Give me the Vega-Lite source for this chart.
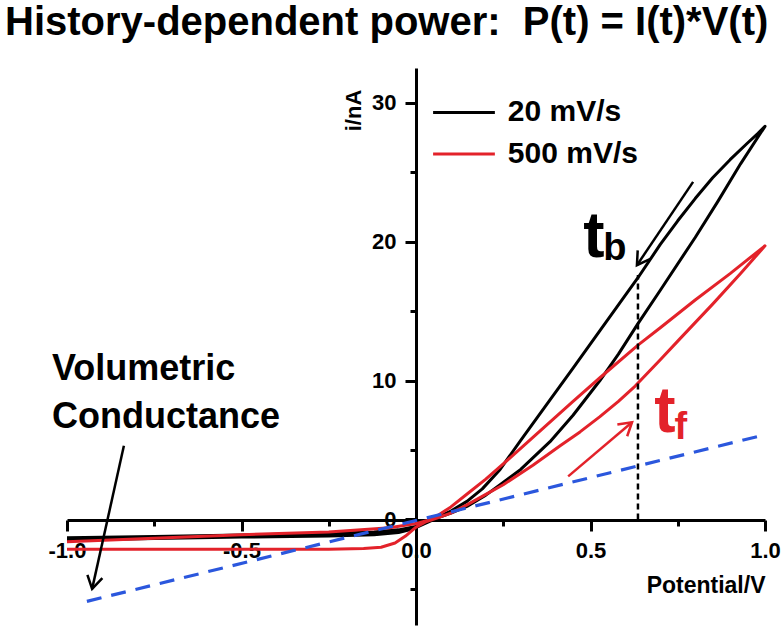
{
  "$schema": "https://vega.github.io/schema/vega-lite/v6.json",
  "width": 698,
  "height": 557,
  "autosize": {"type": "none"},
  "padding": {"left": 67, "top": 68, "right": 19, "bottom": 6},
  "background": "white",
  "config": {"view": {"stroke": null}, "font": "Liberation Sans"},
  "title": {
    "text": "History-dependent power: \u00a0P(t) = I(t)*V(t)",
    "font": "Liberation Sans",
    "fontSize": 40,
    "fontWeight": "bold",
    "color": "black",
    "anchor": "start",
    "frame": "group",
    "dx": -62,
    "dy": 37,
    "baseline": "alphabetic",
    "offset": 30
  },
  "datasets": {
    "curves": [
      {"s": "20 mV/s", "o": 1, "v": -1.0, "i": -1.5},
      {"s": "20 mV/s", "o": 2, "v": -0.75, "i": -1.38},
      {"s": "20 mV/s", "o": 3, "v": -0.5, "i": -1.27},
      {"s": "20 mV/s", "o": 4, "v": -0.25, "i": -1.2},
      {"s": "20 mV/s", "o": 5, "v": -0.12, "i": -1.1},
      {"s": "20 mV/s", "o": 6, "v": -0.05, "i": -0.95},
      {"s": "20 mV/s", "o": 7, "v": -0.01, "i": -0.7},
      {"s": "20 mV/s", "o": 8, "v": 0.02, "i": -0.35},
      {"s": "20 mV/s", "o": 9, "v": 0.06, "i": 0.1},
      {"s": "20 mV/s", "o": 10, "v": 0.1, "i": 0.45},
      {"s": "20 mV/s", "o": 11, "v": 0.146, "i": 0.94},
      {"s": "20 mV/s", "o": 12, "v": 0.2, "i": 1.75},
      {"s": "20 mV/s", "o": 13, "v": 0.241, "i": 2.5},
      {"s": "20 mV/s", "o": 14, "v": 0.3, "i": 3.6},
      {"s": "20 mV/s", "o": 15, "v": 0.384, "i": 5.6},
      {"s": "20 mV/s", "o": 16, "v": 0.45, "i": 7.5},
      {"s": "20 mV/s", "o": 17, "v": 0.527, "i": 10.0},
      {"s": "20 mV/s", "o": 18, "v": 0.58, "i": 11.9},
      {"s": "20 mV/s", "o": 19, "v": 0.636, "i": 14.1},
      {"s": "20 mV/s", "o": 20, "v": 0.7, "i": 16.5},
      {"s": "20 mV/s", "o": 21, "v": 0.8, "i": 20.3},
      {"s": "20 mV/s", "o": 22, "v": 0.865, "i": 22.9},
      {"s": "20 mV/s", "o": 23, "v": 0.93, "i": 25.6},
      {"s": "20 mV/s", "o": 24, "v": 1.0, "i": 28.3},
      {"s": "20 mV/s", "o": 25, "v": 0.98, "i": 27.8},
      {"s": "20 mV/s", "o": 26, "v": 0.95, "i": 27.1},
      {"s": "20 mV/s", "o": 27, "v": 0.9, "i": 25.9},
      {"s": "20 mV/s", "o": 28, "v": 0.85, "i": 24.6},
      {"s": "20 mV/s", "o": 29, "v": 0.8, "i": 23.1},
      {"s": "20 mV/s", "o": 30, "v": 0.75, "i": 21.5},
      {"s": "20 mV/s", "o": 31, "v": 0.7, "i": 19.8},
      {"s": "20 mV/s", "o": 32, "v": 0.636, "i": 17.4},
      {"s": "20 mV/s", "o": 33, "v": 0.527, "i": 13.6},
      {"s": "20 mV/s", "o": 34, "v": 0.45, "i": 10.9},
      {"s": "20 mV/s", "o": 35, "v": 0.384, "i": 8.6},
      {"s": "20 mV/s", "o": 36, "v": 0.3, "i": 5.7},
      {"s": "20 mV/s", "o": 37, "v": 0.241, "i": 3.6},
      {"s": "20 mV/s", "o": 38, "v": 0.19, "i": 2.2},
      {"s": "20 mV/s", "o": 39, "v": 0.146, "i": 1.3},
      {"s": "20 mV/s", "o": 40, "v": 0.1, "i": 0.6},
      {"s": "20 mV/s", "o": 41, "v": 0.06, "i": 0.15},
      {"s": "20 mV/s", "o": 42, "v": 0.03, "i": -0.2},
      {"s": "20 mV/s", "o": 43, "v": 0.0, "i": -0.5},
      {"s": "20 mV/s", "o": 44, "v": -0.05, "i": -0.75},
      {"s": "20 mV/s", "o": 45, "v": -0.12, "i": -0.9},
      {"s": "20 mV/s", "o": 46, "v": -0.25, "i": -1.02},
      {"s": "20 mV/s", "o": 47, "v": -0.5, "i": -1.12},
      {"s": "20 mV/s", "o": 48, "v": -0.75, "i": -1.22},
      {"s": "20 mV/s", "o": 49, "v": -1.0, "i": -1.32},
      {"s": "500 mV/s", "o": 1, "v": -1.0, "i": -2.15},
      {"s": "500 mV/s", "o": 2, "v": -0.75, "i": -2.15},
      {"s": "500 mV/s", "o": 3, "v": -0.5, "i": -2.15},
      {"s": "500 mV/s", "o": 4, "v": -0.25, "i": -2.15},
      {"s": "500 mV/s", "o": 5, "v": -0.15, "i": -2.1},
      {"s": "500 mV/s", "o": 6, "v": -0.1, "i": -2.0},
      {"s": "500 mV/s", "o": 7, "v": -0.06, "i": -1.7},
      {"s": "500 mV/s", "o": 8, "v": -0.03, "i": -1.2},
      {"s": "500 mV/s", "o": 9, "v": 0.0, "i": -0.55},
      {"s": "500 mV/s", "o": 10, "v": 0.03, "i": -0.15},
      {"s": "500 mV/s", "o": 11, "v": 0.06, "i": 0.1},
      {"s": "500 mV/s", "o": 12, "v": 0.1, "i": 0.45},
      {"s": "500 mV/s", "o": 13, "v": 0.146, "i": 1.05},
      {"s": "500 mV/s", "o": 14, "v": 0.2, "i": 1.8},
      {"s": "500 mV/s", "o": 15, "v": 0.25, "i": 2.5},
      {"s": "500 mV/s", "o": 16, "v": 0.335, "i": 3.9},
      {"s": "500 mV/s", "o": 17, "v": 0.413, "i": 5.3},
      {"s": "500 mV/s", "o": 18, "v": 0.47, "i": 6.3},
      {"s": "500 mV/s", "o": 19, "v": 0.527, "i": 7.4},
      {"s": "500 mV/s", "o": 20, "v": 0.58, "i": 8.5},
      {"s": "500 mV/s", "o": 21, "v": 0.628, "i": 9.6},
      {"s": "500 mV/s", "o": 22, "v": 0.7, "i": 11.5},
      {"s": "500 mV/s", "o": 23, "v": 0.756, "i": 13.0},
      {"s": "500 mV/s", "o": 24, "v": 0.85, "i": 15.5},
      {"s": "500 mV/s", "o": 25, "v": 0.93, "i": 17.7},
      {"s": "500 mV/s", "o": 26, "v": 1.0, "i": 19.7},
      {"s": "500 mV/s", "o": 27, "v": 0.97, "i": 19.1},
      {"s": "500 mV/s", "o": 28, "v": 0.9, "i": 17.7},
      {"s": "500 mV/s", "o": 29, "v": 0.8, "i": 15.8},
      {"s": "500 mV/s", "o": 30, "v": 0.7, "i": 13.8},
      {"s": "500 mV/s", "o": 31, "v": 0.636, "i": 12.55},
      {"s": "500 mV/s", "o": 32, "v": 0.527, "i": 10.2},
      {"s": "500 mV/s", "o": 33, "v": 0.45, "i": 8.5},
      {"s": "500 mV/s", "o": 34, "v": 0.335, "i": 5.9},
      {"s": "500 mV/s", "o": 35, "v": 0.25, "i": 4.0},
      {"s": "500 mV/s", "o": 36, "v": 0.2, "i": 2.9},
      {"s": "500 mV/s", "o": 37, "v": 0.15, "i": 1.9},
      {"s": "500 mV/s", "o": 38, "v": 0.1, "i": 0.9},
      {"s": "500 mV/s", "o": 39, "v": 0.06, "i": 0.25},
      {"s": "500 mV/s", "o": 40, "v": 0.03, "i": -0.1},
      {"s": "500 mV/s", "o": 41, "v": 0.0, "i": -0.3},
      {"s": "500 mV/s", "o": 42, "v": -0.075, "i": -0.6},
      {"s": "500 mV/s", "o": 43, "v": -0.25, "i": -0.9},
      {"s": "500 mV/s", "o": 44, "v": -0.5, "i": -1.1},
      {"s": "500 mV/s", "o": 45, "v": -0.75, "i": -1.35},
      {"s": "500 mV/s", "o": 46, "v": -1.0, "i": -1.6}
    ],
    "conductance": [
      {"v": -0.943, "i": -5.9},
      {"v": 1.0, "i": 6.1}
    ],
    "keyrows": [
      {"s": "20 mV/s", "v": 0.049, "v2": 0.226, "i": 29.3},
      {"s": "500 mV/s", "v": 0.049, "v2": 0.226, "i": 26.3}
    ]
  },
  "encoding": {
    "x": {"field": "v", "type": "quantitative"},
    "y": {"field": "i", "type": "quantitative"}
  },
  "layer": [
    {
      "data": {"name": "curves"},
      "mark": {"type": "line", "strokeWidth": 3, "interpolate": "linear", "strokeJoin": "round"},
      "encoding": {
        "x": {
          "field": "v", "type": "quantitative",
          "scale": {"domain": [-1, 1], "nice": false, "zero": false},
          "axis": {
            "orient": "bottom", "offset": -105,
            "values": [-1, -0.75, -0.5, -0.25, 0, 0.25, 0.5, 0.75, 1],
            "labelExpr": "abs(datum.value*2 - round(datum.value*2)) < 0.001 ? (datum.value < 0 ? '-' : '') + format(abs(datum.value), '.1f') : ''",
            "tickSize": {"condition": {"test": "abs(datum.value*2 - round(datum.value*2)) < 0.001", "value": 11}, "value": 6},
            "tickWidth": 3, "tickColor": "black",
            "domainWidth": 3, "domainColor": "black",
            "labelFontSize": 22, "labelFontWeight": "bold", "labelColor": "black",
            "labelPadding": 9, "labelFlush": false, "labelOverlap": false,
            "grid": false,
            "title": "Potential/V", "titleFontSize": 23, "titleFontWeight": "bold", "titleColor": "black",
            "titleX": 698, "titleY": 72, "titleAlign": "right", "titleBaseline": "alphabetic"
          }
        },
        "y": {
          "field": "i", "type": "quantitative",
          "scale": {"domain": [-7.6, 32.5], "nice": false, "zero": false},
          "axis": {
            "orient": "left", "offset": -349,
            "values": [-5, 0, 5, 10, 15, 20, 25, 30],
            "labelExpr": "datum.value % 10 === 0 ? datum.label : ''",
            "tickSize": {"condition": {"test": "datum.value % 10 === 0", "value": 11}, "value": 6},
            "tickWidth": 3, "tickColor": "black",
            "domainWidth": 3, "domainColor": "black",
            "labelFontSize": 22, "labelFontWeight": "bold", "labelColor": "black",
            "labelPadding": 9, "labelFlush": false, "labelOverlap": false,
            "grid": false,
            "title": "i/nA", "titleFontSize": 22, "titleFontWeight": "bold", "titleColor": "black",
            "titleAngle": -90, "titleX": -63, "titleY": 42, "titleAlign": "center", "titleBaseline": "middle"
          }
        },
        "color": {
          "field": "s", "type": "nominal",
          "scale": {"domain": ["20 mV/s", "500 mV/s"], "range": ["#000000", "#e3222a"]},
          "legend": null
        },
        "order": {"field": "o", "type": "quantitative"}
      }
    },
    {
      "data": {"name": "conductance"},
      "mark": {"type": "line", "color": "#2b57dd", "strokeWidth": 3.2, "strokeDash": [15, 10]},
      "encoding": {}
    },
    {
      "data": {"values": [{"v": 0.636, "i": 0, "i2": 17.6}]},
      "mark": {"type": "rule", "color": "black", "strokeWidth": 2.5, "strokeDash": [6, 4]},
      "encoding": {"y2": {"field": "i2"}}
    },
    {
      "data": {"values": [{"v": 0.794, "i": 24.3, "v2": 0.633, "i2": 18.3}, {"v": -0.837, "i": 5.3, "v2": -0.928, "i2": -5.0}]},
      "mark": {"type": "rule", "color": "black", "strokeWidth": 2.5},
      "encoding": {"x2": {"field": "v2"}, "y2": {"field": "i2"}}
    },
    {
      "data": {"values": [{"v": 0.436, "i": 3.1, "v2": 0.619, "i2": 7.0}]},
      "mark": {"type": "rule", "color": "#e3222a", "strokeWidth": 2.5},
      "encoding": {"x2": {"field": "v2"}, "y2": {"field": "i2"}}
    },
    {
      "data": {"values": [{"v": 0.633, "i": 18.3}]},
      "mark": {"type": "point", "shape": "M -1 -0.6 L 0 0 L -1 0.6", "filled": false, "stroke": "black", "strokeWidth": 2.5, "size": 650, "angle": 124, "opacity": 1},
      "encoding": {}
    },
    {
      "data": {"values": [{"v": -0.928, "i": -5.0}]},
      "mark": {"type": "point", "shape": "M -1 -0.6 L 0 0 L -1 0.6", "filled": false, "stroke": "black", "strokeWidth": 2.5, "size": 650, "angle": 102.5, "opacity": 1},
      "encoding": {}
    },
    {
      "data": {"values": [{"v": 0.619, "i": 7.0}]},
      "mark": {"type": "point", "shape": "M -1 -0.6 L 0 0 L -1 0.6", "filled": false, "stroke": "#e3222a", "strokeWidth": 2.5, "size": 650, "angle": 320, "opacity": 1},
      "encoding": {}
    },
    {
      "data": {"name": "keyrows"},
      "mark": {"type": "rule", "strokeWidth": 3},
      "encoding": {
        "x2": {"field": "v2"},
        "color": {"field": "s", "type": "nominal", "legend": null}
      }
    },
    {
      "data": {"name": "keyrows"},
      "mark": {"type": "text", "align": "left", "baseline": "middle", "fontSize": 30, "fontWeight": "bold", "color": "black", "dx": 13},
      "encoding": {
        "x": {"field": "v2", "type": "quantitative"},
        "text": {"field": "s"}
      }
    },
    {
      "data": {"values": [{"v": -1.043, "i": 10.07, "label": "Volumetric\nConductance"}]},
      "mark": {"type": "text", "align": "left", "baseline": "alphabetic", "fontSize": 36, "fontWeight": "bold", "color": "black", "lineBreak": "\n", "lineHeight": 48},
      "encoding": {"text": {"field": "label"}}
    },
    {
      "data": {"values": [{"v": 0.51, "i": 18.9, "label": "t"}]},
      "mark": {"type": "text", "align": "center", "baseline": "alphabetic", "fontSize": 64, "fontWeight": "bold", "color": "black"},
      "encoding": {"text": {"field": "label"}}
    },
    {
      "data": {"values": [{"v": 0.57, "i": 18.7, "label": "b"}]},
      "mark": {"type": "text", "align": "center", "baseline": "alphabetic", "fontSize": 38, "fontWeight": "bold", "color": "black"},
      "encoding": {"text": {"field": "label"}}
    },
    {
      "data": {"values": [{"v": 0.713, "i": 6.26, "label": "t"}]},
      "mark": {"type": "text", "align": "center", "baseline": "alphabetic", "fontSize": 64, "fontWeight": "bold", "color": "#e3222a"},
      "encoding": {"text": {"field": "label"}}
    },
    {
      "data": {"values": [{"v": 0.759, "i": 5.76, "label": "f"}]},
      "mark": {"type": "text", "align": "center", "baseline": "alphabetic", "fontSize": 38, "fontWeight": "bold", "color": "#e3222a"},
      "encoding": {"text": {"field": "label"}}
    }
  ]
}
